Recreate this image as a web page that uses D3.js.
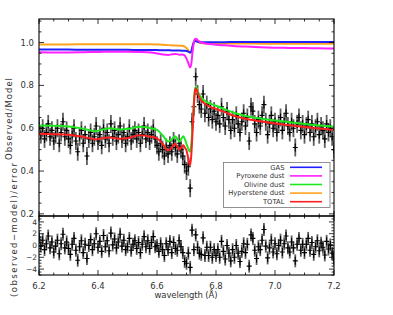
<!DOCTYPE html>
<html><head><meta charset="utf-8">
<script src="https://cdn.jsdelivr.net/npm/d3@7"></script>
<style>body{margin:0;background:#fff}svg{display:block}text{font-family:"DejaVu Sans",sans-serif;fill:#333}</style>
</head><body><svg id="c" width="393" height="315"></svg>
<script>
// ---------- data ----------
const wlStart = 6.2, wlEnd = 7.2;
const observed = [0.61,0.57,0.60,0.55,0.58,0.62,0.56,0.59,0.54,0.57,0.60,0.53,0.58,0.63,0.56,0.59,
0.55,0.52,0.57,0.60,0.54,0.49,0.56,0.59,0.53,0.57,0.47,0.55,0.58,0.53,0.56,0.61,
0.54,0.57,0.52,0.60,0.55,0.58,0.53,0.62,0.56,0.59,0.54,0.57,0.61,0.55,0.58,0.53,
0.56,0.60,0.54,0.57,0.59,0.55,0.58,0.53,0.57,0.61,0.55,0.58,0.54,0.57,0.60,0.55,
0.52,0.49,0.53,0.50,0.47,0.51,0.48,0.52,0.49,0.54,0.51,0.48,0.53,0.50,0.47,0.43,
0.40,0.42,0.32,0.63,0.70,0.84,0.76,0.71,0.69,0.76,0.67,0.71,0.65,0.69,0.64,0.68,
0.63,0.66,0.62,0.70,0.65,0.61,0.68,0.64,0.59,0.64,0.60,0.66,0.62,0.58,0.63,0.67,
0.61,0.65,0.54,0.70,0.68,0.62,0.58,0.64,0.61,0.66,0.71,0.63,0.57,0.62,0.66,0.60,
0.63,0.58,0.62,0.65,0.59,0.63,0.67,0.61,0.58,0.63,0.60,0.51,0.62,0.65,0.59,0.62,
0.57,0.61,0.64,0.58,0.62,0.56,0.60,0.63,0.57,0.61,0.59,0.55,0.62,0.58,0.60,0.56,0.50];
const residual = [1.3,-0.1,0.9,-0.7,0.3,1.6,-0.4,0.6,-1.1,-0.1,0.9,-1.4,0.3,1.9,-0.4,0.6,
-0.5,-1.5,0.2,1.2,-0.8,-2.5,-0.2,0.8,-1.2,0.2,-2.2,0.0,1.0,-0.7,0.3,2.0,
-0.3,0.7,-1.0,1.7,-0.2,0.8,-0.9,2.1,0.1,1.1,-0.4,0.6,1.9,-0.1,0.9,-0.7,
-0.2,1.2,-0.8,0.2,0.8,-0.5,0.5,-1.2,0.2,1.5,-0.2,0.8,-0.5,0.5,1.5,-0.2,
0.0,-1.0,0.3,-0.7,-1.7,0.3,-0.7,0.7,-1.2,0.5,-0.5,-0.8,0.8,-0.2,-1.2,-2.7,
-3.0,-1.3,-3.7,2.6,-0.7,1.8,-0.3,-1.3,-1.5,1.3,-1.7,-0.3,-1.7,-0.3,-2.0,-0.7,
-1.7,-0.7,-2.0,0.7,-1.0,-2.3,0.0,-1.3,-2.6,-0.7,-2.0,0.0,-1.3,-2.7,-1.0,0.3,
-1.2,0.2,-3.5,1.8,1.2,-0.8,-2.2,-0.2,-0.7,0.9,2.7,-0.1,-2.1,-0.4,0.9,-1.1,
0.3,-1.4,0.0,0.9,-1.1,0.3,1.6,-0.4,-1.1,0.6,-0.4,-2.6,0.2,1.2,-0.8,0.2,
-1.2,0.2,1.2,-0.8,0.5,-1.5,-0.2,0.8,-0.9,0.4,-0.3,-1.6,0.7,-0.6,0.1,-1.3,-2.3];
const observedErr = 0.042;
const residualErr = 1.1;

const modelWl = [6.20,6.25,6.30,6.35,6.39,6.42,6.44,6.47,6.50,6.54,6.58,6.60,6.62,6.638,6.65,6.661,6.668,6.676,6.683,6.689,6.695,6.700,6.706,6.712,6.716,6.720,6.724,6.728,6.731,6.735,6.740,6.750,6.765,6.78,6.80,6.83,6.86,6.90,6.95,7.00,7.05,7.10,7.15,7.20];
const gas = [0.968,0.967,0.967,0.966,0.966,0.966,0.966,0.966,0.966,0.965,0.965,0.965,0.964,0.964,0.963,0.963,0.963,0.963,0.962,0.962,0.962,0.961,0.958,0.953,0.958,0.980,0.998,1.006,1.007,1.005,1.003,1.002,1.002,1.002,1.002,1.002,1.003,1.003,1.003,1.003,1.003,1.003,1.003,1.003];
const pyroxene = [0.955,0.954,0.954,0.955,0.956,0.957,0.957,0.957,0.957,0.956,0.954,0.949,0.944,0.942,0.945,0.947,0.946,0.943,0.944,0.943,0.938,0.925,0.905,0.884,0.898,0.950,0.995,1.015,1.018,1.015,1.008,1.000,0.996,0.993,0.990,0.987,0.984,0.981,0.978,0.976,0.975,0.974,0.973,0.972];
const olivine = [0.613,0.612,0.608,0.598,0.586,0.595,0.600,0.594,0.596,0.607,0.600,0.592,0.565,0.538,0.548,0.562,0.552,0.538,0.552,0.562,0.548,0.527,0.505,0.490,0.520,0.600,0.700,0.775,0.792,0.785,0.765,0.743,0.725,0.715,0.705,0.688,0.672,0.657,0.645,0.636,0.628,0.620,0.613,0.607];
const hyperstene = [0.991,0.991,0.991,0.992,0.992,0.992,0.992,0.992,0.992,0.992,0.992,0.991,0.990,0.988,0.987,0.986,0.986,0.985,0.985,0.984,0.980,0.975,0.965,0.952,0.955,0.975,0.998,1.010,1.012,1.008,1.002,0.998,0.996,0.996,0.996,0.996,0.996,0.996,0.995,0.995,0.995,0.995,0.995,0.995];
const total = [0.573,0.572,0.570,0.560,0.548,0.554,0.557,0.551,0.553,0.567,0.560,0.553,0.525,0.496,0.508,0.527,0.515,0.500,0.512,0.520,0.508,0.496,0.460,0.426,0.470,0.570,0.680,0.765,0.785,0.778,0.755,0.730,0.712,0.700,0.690,0.675,0.658,0.644,0.632,0.622,0.614,0.606,0.599,0.593];

const seriesNames = ["GAS","Pyroxene dust","Olivine dust","Hyperstene dust","TOTAL"];
const seriesColors = ["#1f1fff","#ff1fff","#1fe81f","#ffa31f","#ff1f1f"];
const seriesData = [gas,pyroxene,olivine,hyperstene,total];

const xTicks = [6.2,6.4,6.6,6.8,7.0,7.2];
const yTopTicks = [0.2,0.4,0.6,0.8,1.0];
const yBotTicks = [-4,-2,0,2,4];

// ---------- layout ----------
const svg = d3.select("#c");
const L = 39, R = 334, T = 19, M = 216, B = 275;
const x = d3.scaleLinear().domain([wlStart, wlEnd]).range([L, R]);
const yT = d3.scaleLinear().domain([0.19, 1.11]).range([M, T]);
const yB = d3.scaleLinear().domain([-5, 5]).range([B, M]);

const step = (wlEnd - wlStart) / (observed.length - 1);
const wl = observed.map((_, i) => wlStart + i * step);

const defs = svg.append("defs");
defs.append("clipPath").attr("id","ct").append("rect").attr("x",L).attr("y",T).attr("width",R-L).attr("height",M-T);
defs.append("clipPath").attr("id","cb").append("rect").attr("x",L).attr("y",M).attr("width",R-L).attr("height",B-M);

function drawPoints(g, vals, err, ys, hw, hh){
  g.selectAll("line.eb").data(vals).join("line").attr("class","eb")
    .attr("x1",(d,i)=>x(wl[i])).attr("x2",(d,i)=>x(wl[i]))
    .attr("y1",d=>ys(d-err)).attr("y2",d=>ys(d+err))
    .attr("stroke","#5e5e5e").attr("stroke-width",1.8);
  g.selectAll("path.pt").data(vals).join("path").attr("class","pt")
    .attr("d",(d,i)=>{const px=x(wl[i]),py=ys(d);return `M${px-hw},${py}H${px+hw}M${px},${py-hh}V${py+hh}`;})
    .attr("stroke","#000").attr("stroke-width",1.1).attr("fill","none");
}

const gT = svg.append("g").attr("clip-path","url(#ct)");
drawPoints(gT, observed, observedErr, yT, 2.5, 4);
const line = d3.line().x((d,i)=>x(modelWl[i])).y(d=>yT(d)).curve(d3.curveMonotoneX);
[3,0,1,2,4].forEach(k=>{
  gT.append("path").datum(seriesData[k]).attr("d",line).attr("fill","none")
    .attr("stroke",seriesColors[k]).attr("stroke-width",2);
});

const gB = svg.append("g").attr("clip-path","url(#cb)");
drawPoints(gB, residual, residualErr, yB, 2.5, 4);

svg.append("rect").attr("x",L).attr("y",T).attr("width",R-L).attr("height",M-T).attr("fill","none").attr("stroke","#000").attr("stroke-width",1.1);
svg.append("rect").attr("x",L).attr("y",M).attr("width",R-L).attr("height",B-M).attr("fill","none").attr("stroke","#000").attr("stroke-width",1.1);

function xTickMarks(y0, dir){
  const minor = d3.range(0,21).map(i=>wlStart+i*0.05);
  minor.forEach((v,i)=>{
    const len = (i%4===0)?5:2.5;
    svg.append("line").attr("x1",x(v)).attr("x2",x(v)).attr("y1",y0).attr("y2",y0+dir*len).attr("stroke","#000").attr("stroke-width",0.8);
  });
}
xTickMarks(T,1); xTickMarks(M,-1); xTickMarks(M,1); xTickMarks(B,-1);
function yTickMarks(ys, lo, hi, mstep, majStep){
  const n = Math.round((hi-lo)/mstep);
  for(let i=0;i<=n;i++){
    const v = lo + i*mstep;
    const isMaj = Math.abs(v/majStep - Math.round(v/majStep))<1e-6;
    const len = isMaj?5:2.5;
    [[L,1],[R,-1]].forEach(([x0,dir])=>{
      svg.append("line").attr("x1",x0).attr("x2",x0+dir*len).attr("y1",ys(v)).attr("y2",ys(v)).attr("stroke","#000").attr("stroke-width",0.8);
    });
  }
}
yTickMarks(yT, 0.2, 1.1, 0.05, 0.2);
yTickMarks(yB, -5, 5, 0.5, 2);

svg.selectAll("text.xt").data(xTicks).join("text").attr("class","xt")
  .attr("x",d=>x(d)).attr("y",288.5).attr("text-anchor","middle").attr("font-size",8.5)
  .text(d=>d.toFixed(1));
svg.selectAll("text.yt").data(yTopTicks).join("text").attr("class","yt")
  .attr("x",34).attr("y",d=>yT(d)+3).attr("text-anchor","end").attr("font-size",8.5)
  .text(d=>d.toFixed(1));
svg.selectAll("text.yb").data(yBotTicks).join("text").attr("class","yb")
  .attr("x",37).attr("y",d=>yB(d)+2.7).attr("text-anchor","end").attr("font-size",7.5)
  .text(d=>d<0?"\u2212"+Math.abs(d):d);

svg.append("text").attr("transform","translate(11.5,119) rotate(-90)").attr("text-anchor","middle")
  .attr("font-size",8.5).attr("textLength",82).attr("lengthAdjust","spacing").text("Observed/Model");
svg.append("text").attr("transform","translate(16.5,230) rotate(-90)").attr("text-anchor","middle")
  .attr("font-size",8.5).attr("textLength",134).attr("lengthAdjust","spacing").text("(observed\u2212model)/error");
svg.append("text").attr("x",186).attr("y",297.5).attr("text-anchor","middle")
  .attr("font-size",8.5).attr("textLength",63).attr("lengthAdjust","spacing").text("wavelength (\u00c5)");

const lg = svg.append("g");
lg.append("rect").attr("x",223.5).attr("y",162.5).attr("width",106.5).attr("height",45).attr("fill","#fff").attr("stroke","#777").attr("stroke-width",0.8);
seriesNames.forEach((n,i)=>{
  const yy = 167.3 + i*8.6;
  lg.append("text").attr("x",284.5).attr("y",yy+2.3).attr("text-anchor","end").attr("font-size",6.8).text(n);
  lg.append("line").attr("x1",290).attr("x2",322).attr("y1",yy).attr("y2",yy).attr("stroke",seriesColors[i]).attr("stroke-width",1.6);
});
</script></body></html>
